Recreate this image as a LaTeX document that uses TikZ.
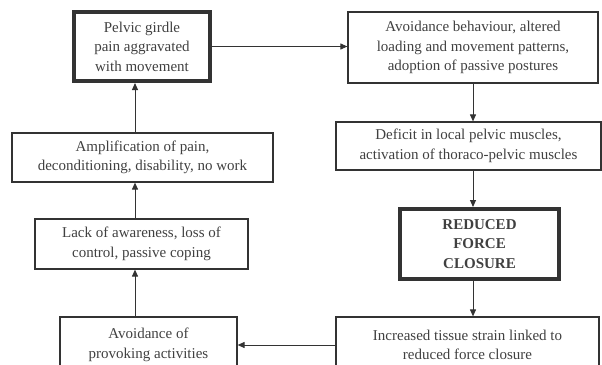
\documentclass[tikz,border=0pt]{standalone}
\usepackage{fontspec}
\setmainfont{Liberation Serif}
\usetikzlibrary{arrows.meta}

\begin{document}
\begin{tikzpicture}[x=1pt, y=-1pt,
  box/.style={draw=black!80, line width=1.2pt, align=center, inner sep=0pt, text=black!75,
    font=\fontsize{15}{19.5}\selectfont},
  keybox/.style={box, line width=4pt},
  >={Triangle[length=7pt,width=6pt]}
]
\clip (0,0) rectangle (602,364);
\coordinate (lcol) at (135,0);
\coordinate (rcol) at (473,0);

% left column, read upwards
\node[keybox, minimum width=136pt, minimum height=69pt] (pelvic) at (142,46.5) {Pelvic girdle\\pain aggravated\\with movement};
\node[box, minimum width=261pt, minimum height=49pt] (amp) at (142.5,157.5) {Amplification of pain,\\deconditioning, disability, no work};
\node[box, minimum width=213pt, minimum height=50pt] (lack) at (141.5,244) {Lack of awareness, loss of\\control, passive coping};
\node[box, minimum width=177pt, minimum height=56pt] (provoke) at (148.5,345) {Avoidance of\\provoking activities};

% right column, read downwards
\node[box, minimum width=250pt, minimum height=71pt] (avoid) at (473,47.5) {Avoidance behaviour, altered\\loading and movement patterns,\\adoption of passive postures};
\node[box, minimum width=265pt, minimum height=48pt] (deficit) at (468.5,146) {Deficit in local pelvic muscles,\\activation of thoraco-pelvic muscles};
\node[keybox, minimum width=159pt, minimum height=70pt] (reduced) at (479.5,244) {\bfseries REDUCED\\\bfseries FORCE\\\bfseries CLOSURE};
\node[box, minimum width=263pt, minimum height=56pt] (strain) at (467.5,345) {Increased tissue strain linked to\\reduced force closure};

\draw[->, black!80, line width=1pt] (pelvic.east) -- (pelvic.east -| avoid.west);
\draw[->, black!80, line width=1pt] (rcol |- avoid.south) -- (rcol |- deficit.north);
\draw[->, black!80, line width=1pt] (rcol |- deficit.south) -- (rcol |- reduced.north);
\draw[->, black!80, line width=1pt] (rcol |- reduced.south) -- (rcol |- strain.north);
\draw[->, black!80, line width=1pt] (strain.west) -- (strain.west -| provoke.east);
\draw[->, black!80, line width=1pt] (lcol |- provoke.north) -- (lcol |- lack.south);
\draw[->, black!80, line width=1pt] (lcol |- lack.north) -- (lcol |- amp.south);
\draw[->, black!80, line width=1pt] (lcol |- amp.north) -- (lcol |- pelvic.south);
\end{tikzpicture}
\end{document}
